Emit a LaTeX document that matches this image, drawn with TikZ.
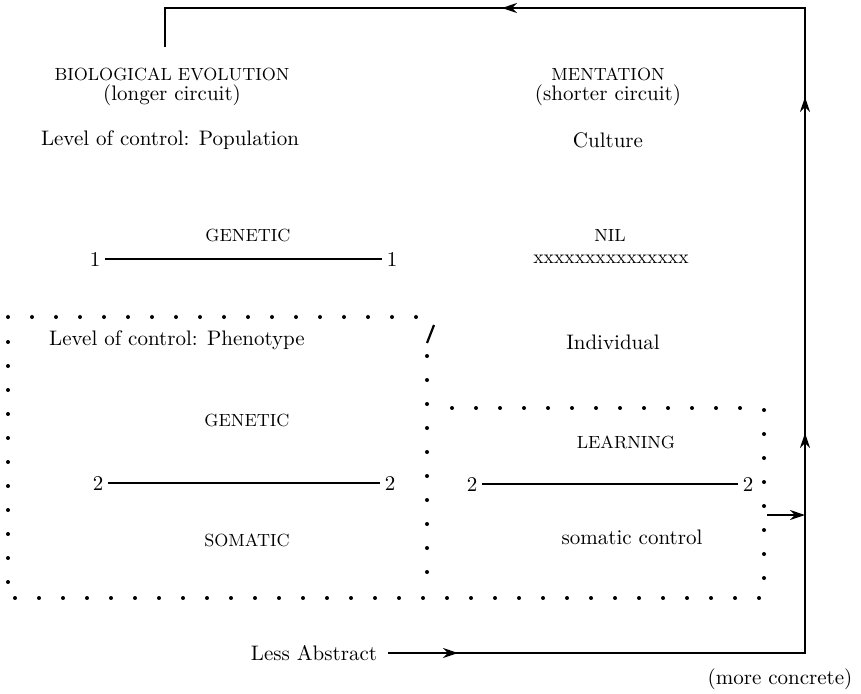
\documentclass[tikz,border=0pt]{standalone}
\usepackage{tikz}
\usetikzlibrary{arrows.meta, positioning}
\newcommand{\capsz}{\fontsize{8.8}{10}\selectfont}
\tikzset{
  txt/.style={font=\fontsize{10.5}{10}\selectfont, inner sep=1.5pt},
  sml/.style={font=\capsz, inner sep=1.5pt},
  hdr/.style={txt, align=center},
  num/.style={txt, inner sep=2pt},
  link/.style={line width=0.9pt},
  flow/.style={line width=1pt},
  arr/.style={flow, -{Stealth[length=7.5pt, width=5pt]}},
  dots/.style={line width=2pt, line cap=round, dash pattern=on 0pt off 12pt}
}
\begin{document}
\begin{tikzpicture}[x=0.5pt, y=-0.5pt]
    \useasboundingbox (0,0) rectangle (861,693);
    % headings
    \node[hdr] (bio) at (172,87) {{\capsz BIOLOGICAL EVOLUTION}\\(longer circuit)};
    \node[txt] (pop) at (170,140) {Level of control: Population};
    \node[hdr] (men) at (608,87) {{\capsz MENTATION}\\(shorter circuit)};
    \node[txt] (cul) at (608,140) {Culture};
    % level 1
    \node[sml] (gen1) at (248,235) {GENETIC};
    \node[num] (o1l) at (95,259) {1};
    \node[num] (o1r) at (392,259) {1};
    \draw[link] (o1l) -- (o1r);
    \node[sml] (nil) at (610,235) {NIL};
    \node[txt, font=\fontsize{9.8}{10}\selectfont] (xx) at (611,259) {xxxxxxxxxxxxxxx};
    % level 2
    \node[txt] (phen) at (177,340) {Level of control: Phenotype};
    \node[txt] (ind) at (613,342) {Individual};
    \node[sml] (gen2) at (247,420) {GENETIC};
    \node[num] (t2l) at (98,483) {2};
    \node[num] (t2r) at (390,483) {2};
    \draw[link] (t2l) -- (t2r);
    \node[sml] (som) at (247,540) {SOMATIC};
    \node[sml] (lrn) at (626,442) {LEARNING};
    \node[num] (t3l) at (472,484) {2};
    \node[num] (t3r) at (748,484) {2};
    \draw[link] (t3l) -- (t3r);
    \node[txt] (sc) at (632,537) {somatic control};
    % dotted boxes
    \draw[dots] (8,317) -- (418,317);
    \draw[dots] (8,342) -- (8,590);
    \draw[dots] (427,356) -- (427,590);
    \draw[dots] (15,598) -- (763,598);
    \draw[dots] (452,408) -- (740,408);
    \draw[dots] (764,410) -- (764,590);
    \draw[line width=1.1pt] (427,343) -- (434,325);
    % circuit
    \node[txt] (la) at (314,653) {Less Abstract};
    \node[txt] (mc) at (780,679) {(more concrete)};
    \coordinate (a1) at (458,653);
    \coordinate (c1) at (805,653);
    \coordinate (a2) at (805,433);
    \coordinate (a3) at (805,97);
    \coordinate (c2) at (805,8);
    \coordinate (a4) at (502,8);
    \coordinate (c3) at (165,8);
    \coordinate (c4) at (165,47);
    \draw[flow] ([xshift=4pt]la.east) -- (la.east -| c1) -- (c2) -- (c3) -- (c4);
    \draw[arr] ([xshift=-7pt]a1) -- (a1);
    \draw[arr] ([yshift=-7pt]a2) -- (a2);
    \draw[arr] ([yshift=-7pt]a3) -- (a3);
    \draw[arr] ([xshift=7pt]a4) -- (a4);
    \coordinate (s1) at (767,515);
    \draw[arr, line width=0.8pt] (s1) -- (s1 -| c1);
\end{tikzpicture}
\end{document}
